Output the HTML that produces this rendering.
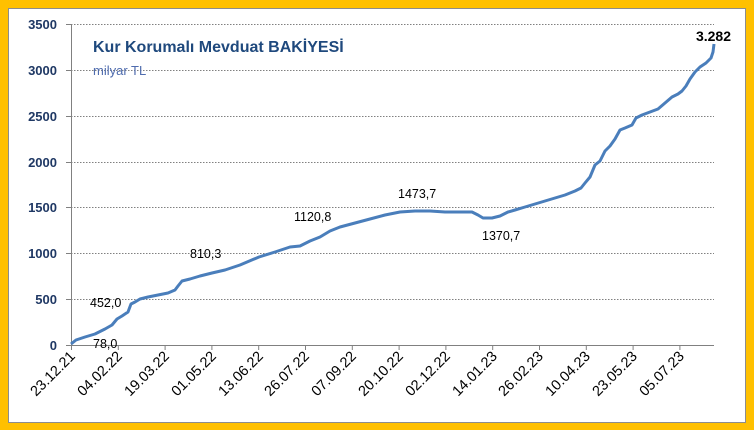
<!DOCTYPE html>
<html><head><meta charset="utf-8"><style>
html,body{margin:0;padding:0;background:#FFC000;}
svg{display:block;}
</style></head><body>
<svg width="754" height="430" xmlns="http://www.w3.org/2000/svg" font-family="Liberation Sans, sans-serif">
<rect x="0" y="0" width="754" height="430" fill="#FFC000"/>
<rect x="8.5" y="8.5" width="737" height="414" fill="#fff" stroke="#8c8c8c"/>
<g stroke="#808080" stroke-dasharray="1.5,1.5" stroke-width="1">
<line x1="71" x2="714" y1="24.5" y2="24.5"/>
<line x1="71" x2="714" y1="70.5" y2="70.5"/>
<line x1="71" x2="714" y1="116.5" y2="116.5"/>
<line x1="71" x2="714" y1="162.5" y2="162.5"/>
<line x1="71" x2="714" y1="207.5" y2="207.5"/>
<line x1="71" x2="714" y1="253.5" y2="253.5"/>
<line x1="71" x2="714" y1="299.5" y2="299.5"/>
</g>
<g stroke="#808080" stroke-width="1">
<line x1="71.5" y1="24" x2="71.5" y2="345"/>
<line x1="71" y1="345.5" x2="714" y2="345.5"/>
<line x1="66" x2="71" y1="24.5" y2="24.5"/><line x1="66" x2="71" y1="70.5" y2="70.5"/><line x1="66" x2="71" y1="116.5" y2="116.5"/><line x1="66" x2="71" y1="162.5" y2="162.5"/><line x1="66" x2="71" y1="207.5" y2="207.5"/><line x1="66" x2="71" y1="253.5" y2="253.5"/><line x1="66" x2="71" y1="299.5" y2="299.5"/><line x1="66" x2="71" y1="345.5" y2="345.5"/>
<path d="M71.5 345v5M118.3 345v5M165.1 345v5M211.9 345v5M258.7 345v5M305.5 345v5M352.3 345v5M399.1 345v5M445.9 345v5M492.7 345v5M539.5 345v5M586.3 345v5M633.1 345v5M679.9 345v5"/>
</g>
<g font-size="13" font-weight="bold" fill="#1F3864" text-anchor="end">
<text x="57" y="29">3500</text><text x="57" y="75">3000</text><text x="57" y="121">2500</text><text x="57" y="167">2000</text><text x="57" y="212">1500</text><text x="57" y="258">1000</text><text x="57" y="304">500</text><text x="57" y="350">0</text>
</g>
<g font-size="14.5" fill="#000" text-anchor="end">
<text transform="translate(76,357) rotate(-45)">23.12.21</text>
<text transform="translate(123,357) rotate(-45)">04.02.22</text>
<text transform="translate(170,357) rotate(-45)">19.03.22</text>
<text transform="translate(217,357) rotate(-45)">01.05.22</text>
<text transform="translate(264,357) rotate(-45)">13.06.22</text>
<text transform="translate(310,357) rotate(-45)">26.07.22</text>
<text transform="translate(357,357) rotate(-45)">07.09.22</text>
<text transform="translate(404,357) rotate(-45)">20.10.22</text>
<text transform="translate(451,357) rotate(-45)">02.12.22</text>
<text transform="translate(498,357) rotate(-45)">14.01.23</text>
<text transform="translate(544,357) rotate(-45)">26.02.23</text>
<text transform="translate(591,357) rotate(-45)">10.04.23</text>
<text transform="translate(638,357) rotate(-45)">23.05.23</text>
<text transform="translate(685,357) rotate(-45)">05.07.23</text>
</g>
<path fill="none" stroke="#4A7EBB" stroke-width="3" stroke-linejoin="round" d="M71 344 L76 340 L85 337 L95 334 L105 329 L112 325 L117 319 L122 316 L128 312 L131 304 L135 302 L140 299 L148 297 L158 295 L168 293 L175 290 L178 286 L182 281 L190 279 L200 276 L212 273 L225 270 L240 265 L259 257 L275 252 L290 247 L300 246 L310 241 L320 237 L330 231 L340 227 L355 223 L370 219 L385 215 L400 212 L415 211 L430 211 L445 212 L460 212 L472 212 L478 215 L483 218 L492 218 L500 216 L508 212 L515 210 L525 207 L535 204 L545 201 L555 198 L565 195 L575 191 L581 188 L585 183 L590 177 L595 165 L600 161 L605 151 L610 146 L615 139 L620 130 L625 128 L632 125 L636 118 L642 115 L650 112 L658 109 L665 103 L672 97 L678 94 L682 91 L686 86 L690 79 L695 72 L700 67 L706 63 L711 58 L713 52 L714 44"/>
<g font-size="12.5" fill="#000">
<text x="90" y="307">452,0</text>
<text x="93" y="348">78,0</text>
<text x="190" y="258">810,3</text>
<text x="294" y="221">1120,8</text>
<text x="398" y="198">1473,7</text>
<text x="482" y="240">1370,7</text>
<text x="731" y="41" font-weight="bold" font-size="14" text-anchor="end">3.282</text>
</g>
<text x="93" y="52" font-size="16" font-weight="bold" fill="#1F497D">Kur Korumalı Mevduat BAKİYESİ</text>
<text x="93" y="75" font-size="13" fill="#4F6CAE">milyar TL</text>
</svg>
</body></html>
